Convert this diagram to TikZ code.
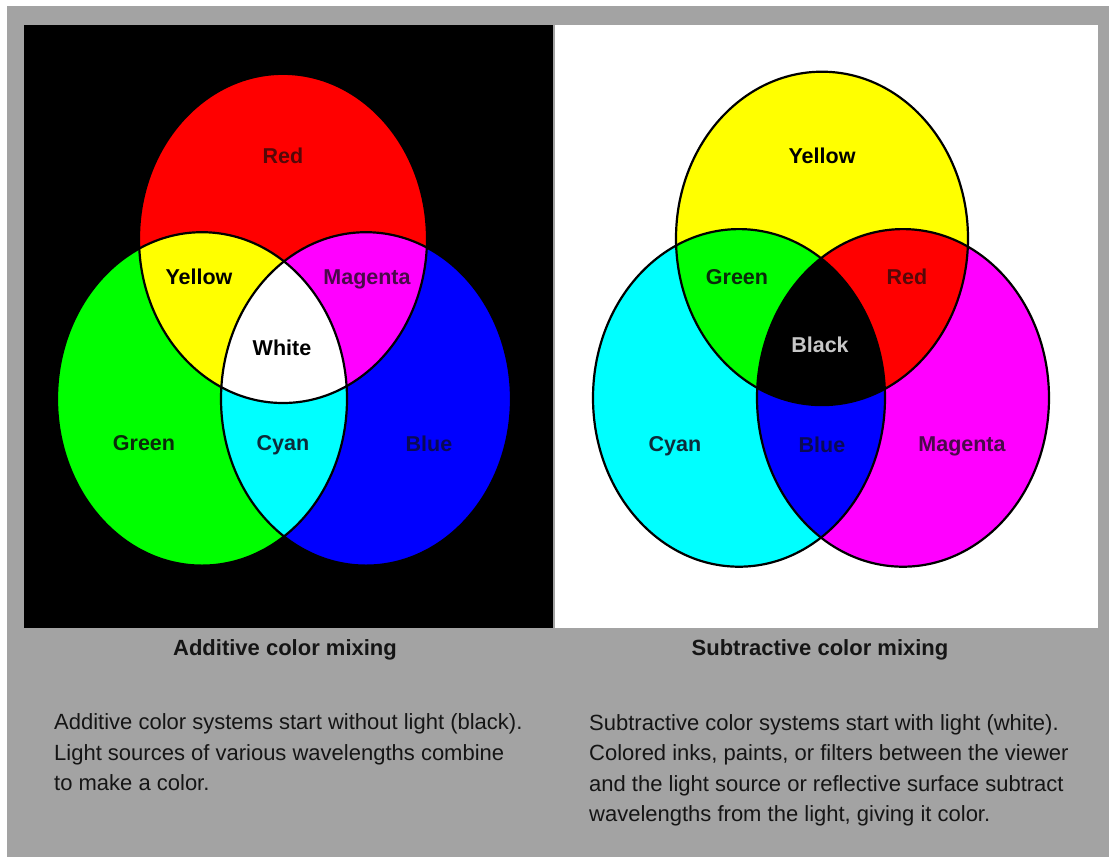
\documentclass[tikz,border=0pt]{standalone}
\usepackage{fontspec}
\setmainfont{Liberation Sans}
\definecolor{bggray}{HTML}{A3A3A3}
\definecolor{cR}{HTML}{FF0000}
\definecolor{cG}{HTML}{00FF00}
\definecolor{cB}{HTML}{0000FF}
\definecolor{cC}{HTML}{00FFFF}
\definecolor{cM}{HTML}{FF00FF}
\definecolor{cY}{HTML}{FFFF00}
\definecolor{tR}{HTML}{550808}
\definecolor{tG}{HTML}{0A2A0A}
\definecolor{tB}{HTML}{0A0A55}
\definecolor{tC}{HTML}{0D2B3A}
\definecolor{tM}{HTML}{4A0A4A}
\definecolor{tK}{HTML}{C8C8C8}
\definecolor{txt}{HTML}{151515}
\tikzset{
  lbl/.style={font=\bfseries\fontsize{21.5}{24}\selectfont, inner sep=0pt, anchor=base},
  head/.style={font=\bfseries\fontsize{22}{26}\selectfont, inner sep=0pt, anchor=base, text=txt},
  body/.style={font=\fontsize{22}{30.5}\selectfont, inner sep=0pt, anchor=north west, align=left, text=txt},
  rim/.style={draw=black, line width=2.2pt}
}
\begin{document}
\begin{tikzpicture}[x=1pt,y=-1pt]
\useasboundingbox (0,0) rectangle (1109,857);
\fill[white] (0,0) rectangle (1109,857);
\fill[bggray] (7,6) rectangle (1109,857);
\fill[black] (24,25) rectangle (553,628);
\fill[white] (555,25) rectangle (1098,628);

% ---------- Additive ----------
\fill[cR] (283,238.4) ellipse [x radius=144pt, y radius=164.6pt];
\fill[cG] (202,398.9) ellipse [x radius=145pt, y radius=166.7pt];
\fill[cB] (366,398.9) ellipse [x radius=145pt, y radius=166.7pt];
\begin{scope}
  \clip (283,238.4) ellipse [x radius=144pt, y radius=164.6pt];
  \fill[cY] (202,398.9) ellipse [x radius=145pt, y radius=166.7pt];
  \fill[cM] (366,398.9) ellipse [x radius=145pt, y radius=166.7pt];
\end{scope}
\begin{scope}
  \clip (202,398.9) ellipse [x radius=145pt, y radius=166.7pt];
  \fill[cC] (366,398.9) ellipse [x radius=145pt, y radius=166.7pt];
\end{scope}
\begin{scope}
  \clip (283,238.4) ellipse [x radius=144pt, y radius=164.6pt];
  \clip (202,398.9) ellipse [x radius=145pt, y radius=166.7pt];
  \fill[white] (366,398.9) ellipse [x radius=145pt, y radius=166.7pt];
\end{scope}
\draw[rim] (283,238.4) ellipse [x radius=144pt, y radius=164.6pt];
\draw[rim] (202,398.9) ellipse [x radius=145pt, y radius=166.7pt];
\draw[rim] (366,398.9) ellipse [x radius=145pt, y radius=166.7pt];

\node[lbl, text=tR] (aRed) at (283,163) {Red};
\node[lbl, text=black] (aYellow) at (199,284.5) {Yellow};
\node[lbl, text=tM] (aMagenta) at (367,284.5) {Magenta};
\node[lbl, text=black] (aWhite) at (282,355) {White};
\node[lbl, text=tG] (aGreen) at (144,450) {Green};
\node[lbl, text=tC] (aCyan) at (283,450) {Cyan};
\node[lbl, text=tB] (aBlue) at (429,451) {Blue};

% ---------- Subtractive ----------
\fill[cY] (822,238.4) ellipse [x radius=146pt, y radius=166.7pt];
\fill[cC] (739,397.9) ellipse [x radius=146pt, y radius=168.8pt];
\fill[cM] (903,397.9) ellipse [x radius=146pt, y radius=168.8pt];
\begin{scope}
  \clip (822,238.4) ellipse [x radius=146pt, y radius=166.7pt];
  \fill[cG] (739,397.9) ellipse [x radius=146pt, y radius=168.8pt];
  \fill[cR] (903,397.9) ellipse [x radius=146pt, y radius=168.8pt];
\end{scope}
\begin{scope}
  \clip (739,397.9) ellipse [x radius=146pt, y radius=168.8pt];
  \fill[cB] (903,397.9) ellipse [x radius=146pt, y radius=168.8pt];
\end{scope}
\begin{scope}
  \clip (822,238.4) ellipse [x radius=146pt, y radius=166.7pt];
  \clip (739,397.9) ellipse [x radius=146pt, y radius=168.8pt];
  \fill[black] (903,397.9) ellipse [x radius=146pt, y radius=168.8pt];
\end{scope}
\draw[rim] (822,238.4) ellipse [x radius=146pt, y radius=166.7pt];
\draw[rim] (739,397.9) ellipse [x radius=146pt, y radius=168.8pt];
\draw[rim] (903,397.9) ellipse [x radius=146pt, y radius=168.8pt];

\node[lbl, text=black] (sYellow) at (822,163.5) {Yellow};
\node[lbl, text=tG] (sGreen) at (737,284.5) {Green};
\node[lbl, text=tR] (sRed) at (907,284.5) {Red};
\node[lbl, text=tK] (sBlack) at (820,352.5) {Black};
\node[lbl, text=tC] (sCyan) at (675,451) {Cyan};
\node[lbl, text=tB] (sBlue) at (822,452.5) {Blue};
\node[lbl, text=tM] (sMagenta) at (962,451) {Magenta};

% ---------- Captions ----------
\node[head] (hAdd) at (285,655) {Additive color mixing};
\node[head] (hSub) at (820,655) {Subtractive color mixing};

\node[body] (tAdd) at (54,713.5) {Additive color systems start without light (black).\\Light sources of various wavelengths combine\\to make a color.};
\node[body] (tSub) at (589,714) {Subtractive color systems start with light (white).\\Colored inks, paints, or filters between the viewer\\and the light source or reflective surface subtract\\wavelengths from the light, giving it color.};
\end{tikzpicture}
\end{document}
